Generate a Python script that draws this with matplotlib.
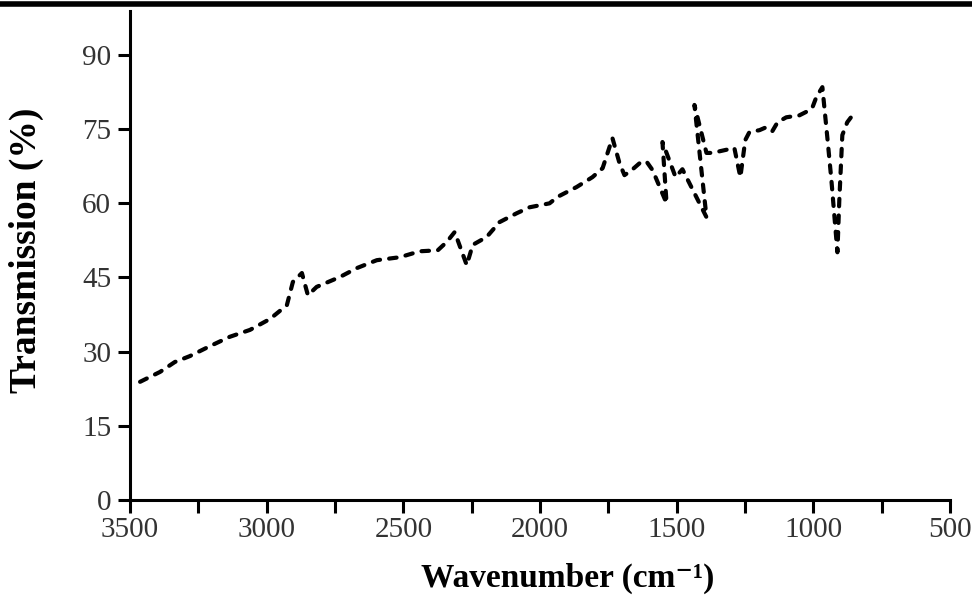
import matplotlib.pyplot as plt
from matplotlib.lines import Line2D
from matplotlib.ticker import MultipleLocator

# FTIR spectrum, transmission vs wavenumber
wavenumber = [3463, 3390, 3336, 3281, 3208, 3135, 3061, 2988, 2926, 2904,
              2871, 2849, 2817, 2732, 2670, 2597, 2513, 2440, 2374, 2341,
              2312, 2268, 2246, 2195, 2148, 2085, 2038, 1965, 1936, 1866,
              1808, 1771, 1735, 1709, 1691, 1665, 1636, 1611, 1588, 1537,
              1552, 1504, 1479, 1391, 1435, 1391, 1369, 1289, 1267, 1249,
              1234, 1197, 1172, 1150, 1131, 1099, 1051, 1026, 1004, 989,
              967, 949, 934, 912, 905, 894, 876, 850]
transmission = [23.9, 25.9, 27.9, 29.1, 31.1, 33.0, 34.4, 36.6, 39.4, 44.1,
                45.9, 41.4, 43.1, 45.1, 46.9, 48.5, 49.1, 50.3, 50.5, 52.2,
                54.2, 47.5, 51.6, 53.2, 56.2, 58.0, 59.2, 60.0, 61.3, 63.3,
                65.3, 67.1, 73.2, 68.1, 65.7, 66.7, 68.1, 68.5, 66.7, 60.0,
                72.4, 65.3, 66.9, 57.2, 79.9, 70.2, 70.2, 71.2, 65.3, 72.8,
                74.4, 74.8, 75.4, 74.6, 76.4, 77.4, 77.8, 78.5, 79.3, 81.5,
                83.5, 73.4, 64.7, 50.1, 60.7, 73.8, 76.4, 78.3]

xticks = [3500, 3000, 2500, 2000, 1500, 1000, 500]
yticks = [0, 15, 30, 45, 60, 75, 90]

plt.rcParams['font.family'] = ['Liberation Serif', 'DejaVu Serif']

fig = plt.figure(figsize=(9.72, 5.95), dpi=100)
ax = fig.add_axes([0.1337, 0.1597, 0.9774 - 0.1337, 0.9815 - 0.1597])

ax.plot(wavenumber, transmission, color='black', lw=3.0,
        linestyle=(0, (1.8, 2.2)), dash_capstyle='round', solid_joinstyle='round')

ax.set_xlim(3500, 500)
ax.set_ylim(0, 98.9)
ax.set_xticks(xticks)
ax.set_yticks(yticks)
ax.xaxis.set_minor_locator(MultipleLocator(250))

for side in ['top', 'right']:
    ax.spines[side].set_visible(False)
for side in ['left', 'bottom']:
    ax.spines[side].set_linewidth(2.2)

ax.tick_params(axis='y', which='major', direction='out', length=8.5, width=2.2,
               labelsize=21, labelcolor='#333333', pad=5)
ax.tick_params(axis='x', which='both', direction='out', length=9.5, width=2.2,
               labelsize=21, labelcolor='#333333', pad=3)

# axis titles placed in figure pixels
fig.text(568 / 972, 1 - 578 / 595, 'Wavenumber (cm⁻¹)', fontsize=24,
         fontweight='bold', ha='center', va='center')
fig.text(26 / 972, 1 - 250 / 595, 'Transmission (%)', fontsize=27,
         fontweight='bold', ha='center', va='center', rotation=90)

# rule along the top edge of the figure
fig.add_artist(Line2D([0, 1], [0.994, 0.994], transform=fig.transFigure,
                      color='black', lw=4))

fig.savefig('out.png', dpi=100)
